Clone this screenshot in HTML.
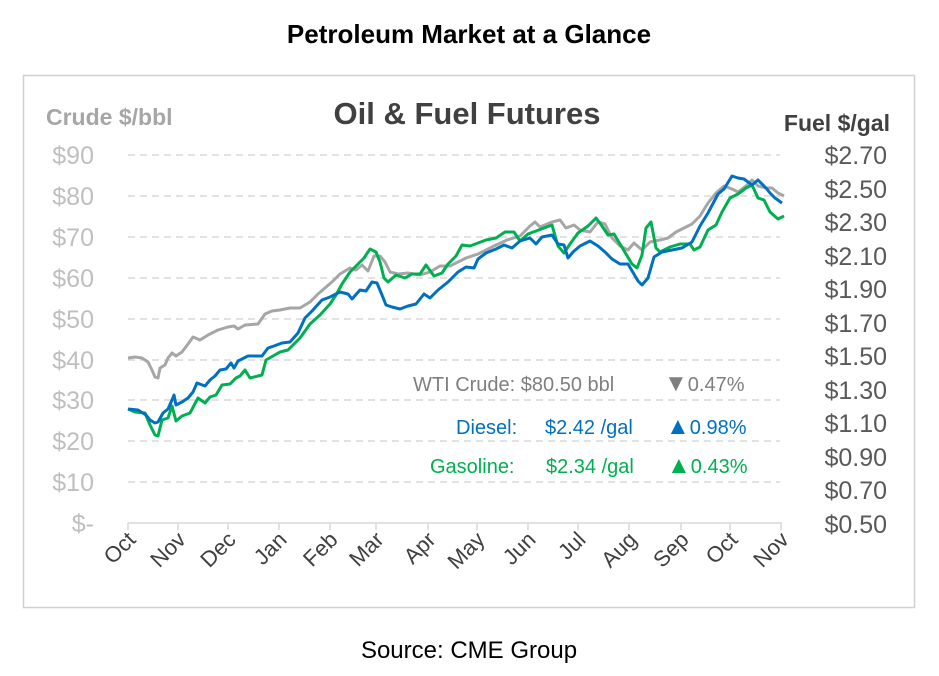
<!DOCTYPE html>
<html><head><style>body{margin:0;background:#fff;}svg{display:block;font-family:"Liberation Sans",Arial,sans-serif;}</style></head><body>
<svg width="939" height="676" viewBox="0 0 939 676">
<rect width="939" height="676" fill="#fff"/>
<text x="469" y="43" text-anchor="middle" font-size="26" font-weight="bold" fill="#000">Petroleum Market at a Glance</text>
<rect x="23.5" y="75.5" width="891" height="532" fill="#fff" stroke="#d0d0d0" stroke-width="1.5"/>
<text x="467" y="124" text-anchor="middle" font-size="31" font-weight="bold" fill="#404040">Oil &amp; Fuel Futures</text>
<text x="46" y="125" font-size="23" font-weight="bold" fill="#a6a6a6">Crude $/bbl</text>
<text x="890" y="131" text-anchor="end" font-size="23" font-weight="bold" fill="#404040">Fuel $/gal</text>
<g stroke="#d9d9d9" stroke-width="1.5" stroke-dasharray="7,5">
<line x1="128" x2="780" y1="155" y2="155"/><line x1="128" x2="780" y1="196" y2="196"/><line x1="128" x2="780" y1="237" y2="237"/><line x1="128" x2="780" y1="278" y2="278"/><line x1="128" x2="780" y1="319" y2="319"/><line x1="128" x2="780" y1="360" y2="360"/><line x1="128" x2="780" y1="400" y2="400"/><line x1="128" x2="780" y1="441" y2="441"/><line x1="128" x2="780" y1="482" y2="482"/>
</g>
<g stroke="#d9d9d9" stroke-width="1.5"><line x1="128" x2="782" y1="523" y2="523"/>
<path d="M128 523v7M178 523v7M228 523v7M279 523v7M330 523v7M376 523v7M428 523v7M477 523v7M528 523v7M578 523v7M629 523v7M681 523v7M730 523v7M781 523v7"/></g>
<g font-size="25" fill="#bfbfbf" text-anchor="end">
<text x="94" y="164">$90</text><text x="94" y="205">$80</text><text x="94" y="246">$70</text><text x="94" y="287">$60</text><text x="94" y="328">$50</text><text x="94" y="369">$40</text><text x="94" y="409">$30</text><text x="94" y="450">$20</text><text x="94" y="491">$10</text><text x="94" y="532">$-</text>
</g>
<g font-size="25" fill="#595959" text-anchor="end">
<text x="887" y="164">$2.70</text><text x="887" y="198">$2.50</text><text x="887" y="231">$2.30</text><text x="887" y="265">$2.10</text><text x="887" y="298">$1.90</text><text x="887" y="332">$1.70</text><text x="887" y="365">$1.50</text><text x="887" y="399">$1.30</text><text x="887" y="432">$1.10</text><text x="887" y="466">$0.90</text><text x="887" y="499">$0.70</text><text x="887" y="533">$0.50</text>
</g>
<g font-size="22" fill="#404040" text-anchor="end">
<text transform="translate(137,541) rotate(-45)">Oct</text><text transform="translate(187,541) rotate(-45)">Nov</text><text transform="translate(237,541) rotate(-45)">Dec</text><text transform="translate(288,541) rotate(-45)">Jan</text><text transform="translate(339,541) rotate(-45)">Feb</text><text transform="translate(385,541) rotate(-45)">Mar</text><text transform="translate(437,541) rotate(-45)">Apr</text><text transform="translate(486,541) rotate(-45)">May</text><text transform="translate(537,541) rotate(-45)">Jun</text><text transform="translate(587,541) rotate(-45)">Jul</text><text transform="translate(638,541) rotate(-45)">Aug</text><text transform="translate(690,541) rotate(-45)">Sep</text><text transform="translate(739,541) rotate(-45)">Oct</text><text transform="translate(790,541) rotate(-45)">Nov</text>
</g>
<g fill="none" stroke-width="3" stroke-linejoin="round">
<polyline stroke="#a6a6a6" points="128,358 135,357 142,358 148,362 152,370 155,377 158,378 160,368 165,365 168,358 172,353 176,356 182,352 188,344 193,337 200,340 208,335 218,330 228,327 234,326 238,329 245,325 258,324 265,314 272,311 280,310 290,308 300,308 310,302 318,294 325,288 333,281 340,274 350,268 356,270 362,265 368,271 374,256 380,256 385,262 390,272 398,274 408,273 420,275 430,272 440,266 450,266 458,262 466,258 478,254 486,250 496,245 507,240 520,236 530,226 535,222 540,227 552,222 560,220 566,228 574,225 580,230 590,232 598,222 605,224 612,238 620,246 628,250 634,243 642,250 650,242 660,240 668,238 676,232 684,228 692,224 700,216 708,203 716,193 724,186 732,189 738,192 746,186 752,180 758,186 766,188 772,188 778,193 784,196"/>
<polyline stroke="#00b050" points="128,409 135,412 145,413 150,425 155,435 158,436 162,420 168,418 172,406 176,421 182,416 190,413 198,398 205,403 210,397 216,395 222,385 230,384 236,378 240,376 245,370 250,378 262,375 266,360 273,356 280,352 288,350 300,338 310,324 320,315 330,304 336,295 342,284 350,272 358,264 364,258 370,249 376,252 380,262 384,278 388,282 396,275 405,278 412,274 420,274 426,265 434,276 442,273 448,264 456,256 462,245 470,246 478,243 486,240 496,238 505,232 514,232 520,241 528,234 536,231 544,228 552,225 558,246 564,253 570,244 578,233 588,226 596,218 602,226 608,235 614,234 620,244 626,254 632,264 637,268 642,255 646,228 651,222 656,248 660,252 670,247 680,244 690,244 694,250 700,247 708,230 716,225 722,212 730,198 738,194 746,188 752,185 758,198 764,200 770,212 778,219 784,216"/>
<polyline stroke="#0070c0" points="128,409 138,410 146,415 150,420 155,423 158,422 163,413 168,409 172,400 174,395 176,405 182,402 188,398 193,392 197,383 205,386 210,380 215,376 220,370 226,369 231,363 234,368 238,361 248,356 262,356 268,348 274,346 282,343 290,342 298,333 305,318 312,311 322,300 330,297 340,292 348,294 352,299 360,290 366,291 372,282 377,283 382,295 386,305 392,307 400,309 408,306 416,304 424,294 430,298 438,290 448,282 458,272 466,267 474,268 478,259 486,253 496,249 504,245 512,248 520,241 530,238 536,244 542,237 552,235 558,244 564,245 568,258 573,252 580,246 590,241 598,246 605,252 612,259 620,264 628,264 638,281 642,285 648,278 654,257 662,252 672,250 682,248 692,242 700,226 708,213 718,194 724,189 732,176 738,178 744,179 752,185 758,180 766,188 770,193 775,198 782,203"/>
</g>
<g font-size="20">
<text x="413" y="391" fill="#7f7f7f">WTI Crude: $80.50 bbl <tspan x="664" font-size="24">▼</tspan><tspan>0.47%</tspan></text>
<text x="456" y="434" fill="#0070c0">Diesel:<tspan x="545">$2.42 /gal</tspan><tspan x="666" font-size="24">▲</tspan><tspan>0.98%</tspan></text>
<text x="430" y="473" fill="#00b050">Gasoline:<tspan x="546">$2.34 /gal</tspan><tspan x="667" font-size="24">▲</tspan><tspan>0.43%</tspan></text>
</g>
<text x="469" y="658" text-anchor="middle" font-size="24" fill="#000">Source: CME Group</text>
</svg>
</body></html>
